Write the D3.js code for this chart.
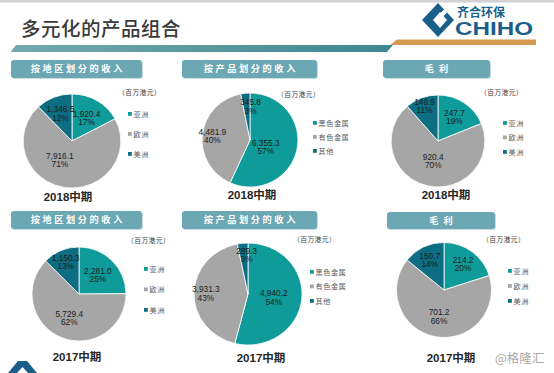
<!DOCTYPE html>
<html>
<head>
<meta charset="utf-8">
<script src="https://cdn.jsdelivr.net/npm/d3@7"></script>
<style>
  html, body { margin: 0; padding: 0; background: #fff; }
  svg { display: block; }
</style>
</head>
<body>
<div id="chart"></div>
<script>
// values (百万港元)
var pageTitle = "多元化的产品组合";
var unitLabel = "（百万港元）";
var watermark = "@格隆汇";
var panelTitles = ["按地区划分的收入", "按产品划分的收入", "毛利"];
var periodLabels = ["2018中期", "2017中期"];

var regionCats = ["亚洲", "欧洲", "美洲"];
var productCats = ["黑色金属", "有色金属", "其他"];

var rev2018Region = [1920.4, 7916.1, 1346.5];
var pct2018Region = ["17%", "71%", "12%"];
var rev2018Product = [6355.3, 4481.9, 345.8];
var pct2018Product = ["57%", "40%", "3%"];
var gp2018Region = [247.7, 920.4, 149.9];
var pctGp2018 = ["19%", "70%", "11%"];

var rev2017Region = [2281.0, 5729.4, 1150.3];
var pct2017Region = ["25%", "62%", "13%"];
var rev2017Product = [4940.2, 3931.3, 289.3];
var pct2017Product = ["54%", "43%", "3%"];
var gp2017Region = [214.2, 701.2, 150.7];
var pctGp2017 = ["20%", "66%", "14%"];

var colors = ["#0e9b99", "#a6a6a6", "#0d6d82"];
var fmt = d3.format(",.1f");

// layout of the six little pies (lr = label radius fraction, la = label angle override in deg)
var panels = [
  {title: panelTitles[0], period: periodLabels[0], cats: regionCats, values: rev2018Region, pcts: pct2018Region,
   cx: 72, cy: 141, r: 47, sx: 1.04, box: [11, 60, 131, 18], px: 68, py: 197,
   ux: 118, uy: 92, lx: 128, ly: 114, ldy: 20, lr: [0.58, 0.47, 0.64], la: [null, 212, null]},
  {title: panelTitles[1], period: periodLabels[0], cats: productCats, values: rev2018Product, pcts: pct2018Product,
   cx: 250, cy: 140, r: 47, sx: 1.02, box: [182, 60, 135, 18], px: 252, py: 195,
   ux: 277, uy: 94, lx: 313, ly: 123, ldy: 14, lr: [0.36, 0.79, 0.72], la: [114, null, 1]},
  {title: panelTitles[2], period: periodLabels[0], cats: regionCats, values: gp2018Region, pcts: pctGp2018,
   cx: 438, cy: 141, r: 46, sx: 1.02, box: [383, 60, 107, 18], px: 446, py: 195,
   ux: 480, uy: 92, lx: 503, ly: 123, ldy: 14.5, lr: [0.63, 0.44, 0.82], la: [null, null, null]},
  {title: panelTitles[0], period: periodLabels[1], cats: regionCats, values: rev2017Region, pcts: pct2017Region,
   cx: 79, cy: 294, r: 47, sx: 1.0, box: [11, 211, 131, 18], px: 77, py: 357,
   ux: 127, uy: 240, lx: 144, ly: 269, ldy: 20.5, lr: [0.57, 0.55, 0.74], la: [null, null, null]},
  {title: panelTitles[1], period: periodLabels[1], cats: productCats, values: rev2017Product, pcts: pct2017Product,
   cx: 248, cy: 294, r: 51, sx: 1.06, box: [182, 211, 135, 18], px: 261, py: 358,
   ux: 293, uy: 239, lx: 310, ly: 272, ldy: 14.5, lr: [0.48, 0.78, 0.77], la: [null, null, 358]},
  {title: panelTitles[2], period: periodLabels[1], cats: regionCats, values: gp2017Region, pcts: pctGp2017,
   cx: 444, cy: 290, r: 47.5, sx: 1.0, box: [387, 212, 108, 17], px: 451, py: 358,
   ux: 482, uy: 239, lx: 508, ly: 271, ldy: 15, lr: [0.68, 0.56, 0.7], la: [null, null, null]}
];

var svgWidth = 554, svgHeight = 373;
var cjk = "'Noto Sans CJK SC', sans-serif";
var latin = "'Liberation Sans', Arial, 'Noto Sans CJK SC', sans-serif";

var svg = d3.select("#chart").append("svg")
  .attr("width", svgWidth)
  .attr("height", svgHeight);

svg.append("rect").attr("width", svgWidth).attr("height", svgHeight).attr("fill", "#fff");

drawHeader();
panels.forEach(drawPanel);

svg.append("text")
  .attr("x", 495).attr("y", 363)
  .attr("font-family", cjk).attr("font-size", 12.5)
  .attr("fill", "#a9a9a9")
  .text(watermark);

// partial logo peeking in at the bottom left
svg.append("polygon").attr("points", "8,373 18,361 27,361 37,373").attr("fill", "#1a5f8a");
svg.append("polygon").attr("points", "17,373 22.5,367 28,373").attr("fill", "#fff");


function drawHeader() {
  svg.append("rect").attr("x", 0).attr("y", 0).attr("width", svgWidth).attr("height", 2.5).attr("fill", "#d2d2d2");

  svg.append("text")
    .attr("x", 21).attr("y", 36)
    .attr("font-family", cjk).attr("font-size", 19.5).attr("font-weight", 500)
    .attr("fill", "#3a3a3a")
    .attr("letter-spacing", 0.5)
    .text(pageTitle);

  var grad = svg.append("defs").append("linearGradient").attr("id", "barGrad");
  grad.append("stop").attr("offset", "0%").attr("stop-color", "#74a9b0");
  grad.append("stop").attr("offset", "100%").attr("stop-color", "#3f878f");

  svg.append("polygon").attr("points", "10.5,52 16,45 393,45 387,52").attr("fill", "url(#barGrad)");
  svg.append("polygon").attr("points", "390,45 397,39.5 536,39.5 536,45").attr("fill", "#d6994f");

  // CHIHO logo
  var logo = svg.append("g");
  logo.append("polygon").attr("points", "438,3 454,20 438,37 422,20").attr("fill", "#1a5f8a");
  logo.append("polygon").attr("points", "440,12 447,20 440,28 433,20").attr("fill", "#fff");
  logo.append("polygon").attr("points", "444,9.5 447,12.5 442,17.5 439,14.5").attr("fill", "#fff");
  logo.append("text")
    .attr("x", 457).attr("y", 17)
    .attr("font-family", cjk).attr("font-size", 12).attr("font-weight", 700)
    .attr("fill", "#1a5f8a")
    .text("齐合环保");
  logo.append("text")
    .attr("x", 455).attr("y", 35)
    .attr("font-family", latin).attr("font-size", 18).attr("font-weight", 700)
    .attr("fill", "#1a5f8a")
    .attr("textLength", 78).attr("lengthAdjust", "spacingAndGlyphs")
    .text("CHIHO");
}


function drawPanel(p) {
  var g = svg.append("g");

  // title box
  g.append("rect")
    .attr("x", p.box[0] + 1).attr("y", p.box[1] + 1)
    .attr("width", p.box[2]).attr("height", p.box[3])
    .attr("rx", 3).attr("fill", "#c9dde2");
  g.append("rect")
    .attr("x", p.box[0]).attr("y", p.box[1])
    .attr("width", p.box[2]).attr("height", p.box[3])
    .attr("rx", 3).attr("fill", "#6ca7b4");
  var sp = p.title.length < 3 ? 5 : 2.6;
  g.append("text")
    .attr("x", p.box[0] + p.box[2] / 2 + sp / 2)
    .attr("y", p.box[1] + p.box[3] / 2 + 3.3)
    .attr("text-anchor", "middle")
    .attr("font-family", cjk).attr("font-size", 9.2).attr("font-weight", 700)
    .attr("letter-spacing", sp)
    .attr("fill", "#fff")
    .text(p.title);

  // pie
  var pie = d3.pie().sort(null).value(function(d) { return d; });
  var arcs = pie(p.values);
  var arc = d3.arc().innerRadius(0).outerRadius(p.r);

  var pieG = g.append("g")
    .attr("transform", "translate(" + p.cx + "," + p.cy + ") scale(" + p.sx + ",1)");

  pieG.selectAll("path")
    .data(arcs)
    .enter()
    .append("path")
    .attr("d", arc)
    .attr("fill", function(d, i) { return colors[i]; })
    .attr("stroke", "#fff")
    .attr("stroke-width", 0.8);

  // data labels
  arcs.forEach(function(d, i) {
    var rr = p.lr[i] * p.r;
    var a = p.la[i] == null ? (d.startAngle + d.endAngle) / 2 : p.la[i] * Math.PI / 180;
    var c = d3.arc().innerRadius(rr).outerRadius(rr).centroid({startAngle: a, endAngle: a});
    var x = p.cx + c[0] * p.sx;
    var y = p.cy + c[1];
    var t = g.append("text")
      .attr("text-anchor", "middle")
      .attr("font-family", latin).attr("font-size", 8.3)
      .attr("fill", "#1c1c1c");
    t.append("tspan").attr("x", x).attr("y", y - 1).text(fmt(p.values[i]));
    t.append("tspan").attr("x", x).attr("y", y + 7.5).text(p.pcts[i]);
  });

  // period under the pie
  g.append("text")
    .attr("x", p.px).attr("y", p.py + 4.2)
    .attr("text-anchor", "middle")
    .attr("font-family", latin).attr("font-size", 11.5).attr("font-weight", 700)
    .attr("fill", "#262626")
    .text(p.period);

  // unit
  g.append("text")
    .attr("x", p.ux).attr("y", p.uy + 2.5)
    .attr("font-family", cjk).attr("font-size", 6.8)
    .attr("letter-spacing", 0.4)
    .attr("fill", "#404040")
    .text(unitLabel);

  // legend
  var leg = g.selectAll(".leg")
    .data(p.cats)
    .enter()
    .append("g")
    .attr("transform", function(d, i) { return "translate(" + p.lx + "," + (p.ly + i * p.ldy) + ")"; });
  leg.append("rect")
    .attr("x", 0).attr("y", -2)
    .attr("width", 3.8).attr("height", 3.8)
    .attr("fill", function(d, i) { return colors[i]; });
  leg.append("text")
    .attr("x", 5.5).attr("y", 2.6)
    .attr("font-family", cjk).attr("font-size", 7.2)
    .attr("letter-spacing", 0.5)
    .attr("fill", "#595959")
    .text(function(d) { return d; });
}
</script>
</body>
</html>
